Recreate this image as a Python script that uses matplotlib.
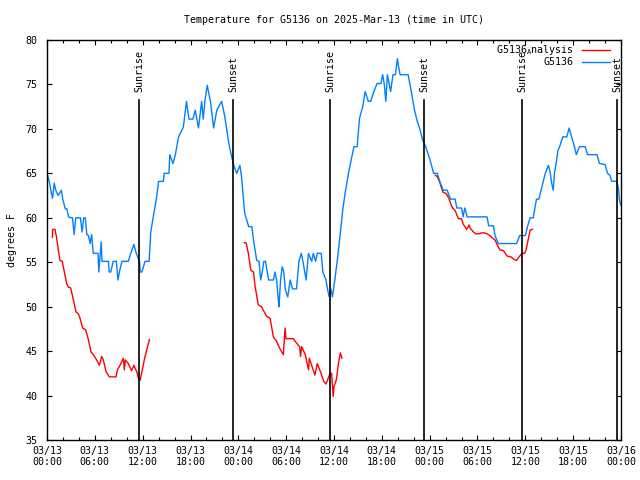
import numpy as np
import matplotlib
matplotlib.use('Agg')
import matplotlib.pyplot as plt

plt.rcParams['font.family'] = ['DejaVu Sans Mono']
plt.rcParams['mathtext.default'] = 'regular'
plt.rcParams['font.size'] = 7.2

# hours since 03/13 00:00 UTC
obs_t = [0.0, 0.3, 0.5, 0.7, 0.9, 1.1, 1.4, 1.6, 1.8, 2.0, 2.3, 2.5, 2.7, 3.0, 3.2, 3.4,
         3.6, 4.0, 4.2, 4.4, 4.6, 4.8, 5.0, 5.2, 5.4, 5.6, 5.8, 6.4, 6.5, 6.8, 6.9, 7.7,
         7.8, 8.0, 8.3, 8.7, 8.9, 9.1, 9.4, 10.2, 10.5, 10.9, 11.2, 11.6, 11.7, 11.9,
         12.3, 12.8, 12.9, 13.0, 13.4, 13.7, 14.0, 14.6, 14.7, 15.3, 15.4, 15.8, 16.1,
         16.5, 17.1, 17.5, 17.8, 18.3, 18.6, 19.0, 19.4, 19.6, 19.8, 20.1, 20.5, 20.9,
         21.3, 21.9, 22.3, 22.8, 23.2, 23.5, 23.8, 24.2, 24.4, 24.8, 25.3, 25.7, 25.9,
         26.3, 26.6, 26.8, 27.0, 27.2, 27.4, 27.8, 28.4, 28.6, 28.8, 29.0, 29.1, 29.3,
         29.5, 29.7, 29.9, 30.2, 30.5, 30.8, 31.3, 31.6, 31.9, 32.1, 32.5, 32.8, 33.2,
         33.4, 33.7, 33.9, 34.4, 34.6, 35.0, 35.2, 35.4, 35.6, 35.8, 36.1, 36.4, 36.8,
         37.1, 37.4, 37.9, 38.5, 38.9, 39.2, 39.6, 39.9, 40.3, 40.6, 41.0, 41.4, 41.9,
         42.1, 42.3, 42.5, 42.7, 43.1, 43.4, 43.7, 43.95, 44.1, 44.3, 45.3, 45.7, 46.1,
         46.4, 46.8, 47.1, 47.5, 47.9, 48.05, 48.5, 48.97, 49.3, 49.7, 50.2, 50.6, 51.2,
         51.4, 52.0, 52.2, 52.4, 52.7, 55.2, 55.4, 56.0, 56.2, 56.6, 58.9, 59.3, 60.0,
         60.3, 60.6, 61.0, 61.2, 61.4, 61.7, 62.0, 62.3, 62.5, 62.9, 63.1, 63.3, 63.5,
         63.65, 63.85, 64.1, 64.3, 64.7, 65.2, 65.5, 65.8, 66.1, 66.4, 66.8, 67.5, 67.8,
         69.0, 69.3, 70.0, 70.3, 70.6, 70.85, 71.5, 71.7, 71.8, 72.0]
obs_v = [65, 64, 63, 62.2, 63.9, 63.1, 62.5, 62.8, 63.1, 62, 61, 61, 60.1, 60, 60, 58.1,
         60, 60, 60, 58.4, 60, 60, 58.1, 58, 57.1, 58.1, 56, 56, 53.9, 57.3, 55.1, 55.1,
         53.9, 53.9, 55.1, 55.1, 53, 54, 55.1, 55.1, 56, 57, 56, 55.1, 53.9, 53.9,
         55.1, 55.1, 56.5, 58.3, 60.5, 62, 64.1, 64.1, 65, 65, 67.1, 66.1, 67.1,
         69.1, 70.2, 73.1, 71.1, 71.1, 72.1, 70.1, 73.1, 71.1, 73.1, 74.9, 73.1, 70.1,
         72.1, 73.1, 71.4, 68.4, 66.7, 65.7, 65, 65.9, 64.6, 60.5, 59, 59, 57.5,
         55.2, 55.1, 53, 53.9, 55.1, 55.1, 53, 53, 53.9, 53, 50.9, 50, 53,
         54.5, 53.9, 51.9, 51.1, 53, 52, 52, 55.1, 56, 55.1, 53, 56, 55.1,
         56, 55.1, 56, 56, 53.9, 53, 51.9, 51.1, 52, 51.1, 53, 55.1, 58.3,
         60.9, 62.8, 65.4, 68, 68, 71.2, 72.5, 74.2, 73.1, 73.1, 74.2, 75.1, 75.1,
         76.1, 75.1, 73.1, 76.1, 74.2, 76.1, 76.1, 77.9, 77, 76.1, 76.1, 74.2, 72.1,
         71, 69.9, 68.8, 68, 66.9, 66.5, 65, 65, 64, 63.1, 63.1, 62.1, 62.1,
         61.1, 61.1, 60.1, 61.1, 60.1, 60.1, 59.1, 59.1, 58, 57.1, 57.1, 58, 58,
         59.1, 60, 60, 61.1, 62.1, 62.1, 63.2, 64.3, 65, 65.9, 65.2, 63.9, 63.1,
         65, 66, 67.6, 68, 69.1, 69.1, 70.1, 69.1, 68.2, 67.1, 68, 68, 67.1,
         67.1, 66.1, 66, 65, 64.8, 64.1, 64.1, 63.1, 62, 61.4]

ana1_t = [0.67, 0.71, 1.0, 1.2, 1.42, 1.63, 1.92, 2.13, 2.47, 2.68, 2.97, 3.3, 3.64, 3.93,
          4.14, 4.47, 4.85, 5.19, 5.52, 5.81, 6.23, 6.57, 6.86, 7.07, 7.4, 7.82, 8.66,
          8.83, 9.16, 9.58, 9.7, 9.83, 10.2, 10.6, 10.9, 11.25, 11.46, 11.67, 11.96,
          12.2, 12.5, 12.84]
ana1_v = [57.8, 58.7, 58.7, 57.8, 56.4, 55.2, 55.1, 54.1, 52.6, 52.2, 52.1, 50.8, 49.4,
          49.2, 48.7, 47.6, 47.4, 46.3, 44.9, 44.6, 44, 43.4, 44.4, 44, 42.7, 42.1, 42.1,
          42.9, 43.4, 44.2, 42.9, 44, 43.6, 42.8, 43.4, 42.7, 42, 41.7, 42.9, 44, 45.1,
          46.3]

ana2_t = [24.76, 24.97, 25.26, 25.56, 25.9, 26.1, 26.5, 26.9, 27.56, 27.98, 28.4, 28.8,
          29.2, 29.65, 29.86, 29.98, 30.9, 31.3, 31.7, 31.8, 31.95, 32.4, 32.8, 32.9,
          33.2, 33.6, 33.9, 34.3, 34.7, 35.0, 35.5, 35.7, 35.9, 36.0, 36.3, 36.55, 36.8,
          37.0]
ana2_v = [57.2, 57.2, 56, 54.1, 53.9, 52.3, 50.2, 50, 48.9, 48.7, 46.6, 46.1, 45.3, 44.6,
          47.6, 46.4, 46.4, 45.9, 45.5, 44.4, 45.5, 44.6, 42.9, 44.2, 43.4, 42.3, 43.6,
          42.7, 41.6, 41.3, 42.5, 42.5, 39.9, 41, 41.8, 43.6, 44.8, 44.2]

ana3_t = [48.7, 48.98, 49.3, 49.65, 50.1, 50.4, 50.8, 51.2, 51.6, 52.0, 52.2, 52.65, 52.95,
          53.1, 53.5, 53.8, 54.25, 54.5, 54.9, 55.4, 55.8, 56.2, 56.5, 56.8, 57.25, 57.7,
          58.2, 58.6, 58.9, 59.3, 59.6, 59.9, 60.1, 60.3, 60.6, 60.9]
ana3_v = [64.8, 64.6, 63.9, 62.9, 62.7, 62.2, 61.2, 60.8, 59.9, 59.9, 59.3, 58.7, 59.2,
          58.8, 58.4, 58.2, 58.2, 58.3, 58.3, 58.1, 57.8, 57.5, 56.9, 56.4, 56.3, 55.7,
          55.6, 55.3, 55.2, 55.7, 56, 56, 56.4, 57.3, 58.6, 58.7]

sun_t = [11.58, 23.38, 35.5, 47.34, 59.6, 71.5]
sun_labels = ['Sunrise', 'Sunset', 'Sunrise', 'Sunset', 'Sunrise', 'Sunset']

tick_t = np.arange(0, 73, 6)
tick_labels = ['03/13\n00:00', '03/13\n06:00', '03/13\n12:00', '03/13\n18:00',
               '03/14\n00:00', '03/14\n06:00', '03/14\n12:00', '03/14\n18:00',
               '03/15\n00:00', '03/15\n06:00', '03/15\n12:00', '03/15\n18:00',
               '03/16\n00:00']

red = '#ff0000'
blue = '#0080ff'

fig = plt.figure(figsize=(6.4, 4.8), dpi=100)
ax = fig.add_axes([47/640, 40/480, 574/640, 400/480])

ax.plot(ana1_t, ana1_v, color=red, lw=1)
ax.plot(ana2_t, ana2_v, color=red, lw=1)
ax.plot(ana3_t, ana3_v, color=red, lw=1)
ax.plot(obs_t, obs_v, color=blue, lw=1)

for t, lab in zip(sun_t, sun_labels):
    ax.axvline(t, ymin=0, ymax=0.85, color='k', lw=1.2)
    ax.text(t, 74.15, lab, rotation=90, ha='center', va='bottom')

ax.set_xlim(0, 72)
ax.set_ylim(35, 80)
ax.set_xticks(tick_t)
ax.set_xticklabels(tick_labels)
ax.set_xticks(np.arange(0, 73, 2), minor=True)
ax.set_yticks(np.arange(35, 81, 5))
ax.tick_params(which='both', direction='in', top=True, right=True, width=0.8)
ax.tick_params(which='major', length=3.6, pad=4)
ax.tick_params(axis='y', pad=7)
ax.tick_params(which='minor', length=2)
for s in ax.spines.values():
    s.set_linewidth(1)

ax.set_ylabel('degrees F', labelpad=6)
fig.text(334/640, 1 - 20/480, 'Temperature for G5136 on 2025-Mar-13 (time in UTC)',
         ha='center', va='center')

# legend, gnuplot style: text right-justified, sample to the right
ax.text(0.918, 0.975, 'G5136$_{A}$nalysis', transform=ax.transAxes, ha='right', va='center')
ax.plot([0.932, 0.981], [0.975, 0.975], color=red, lw=1, transform=ax.transAxes)
ax.text(0.918, 0.944, 'G5136', transform=ax.transAxes, ha='right', va='center')
ax.plot([0.932, 0.981], [0.944, 0.944], color=blue, lw=1, transform=ax.transAxes)

fig.savefig('out.png', dpi=100)
